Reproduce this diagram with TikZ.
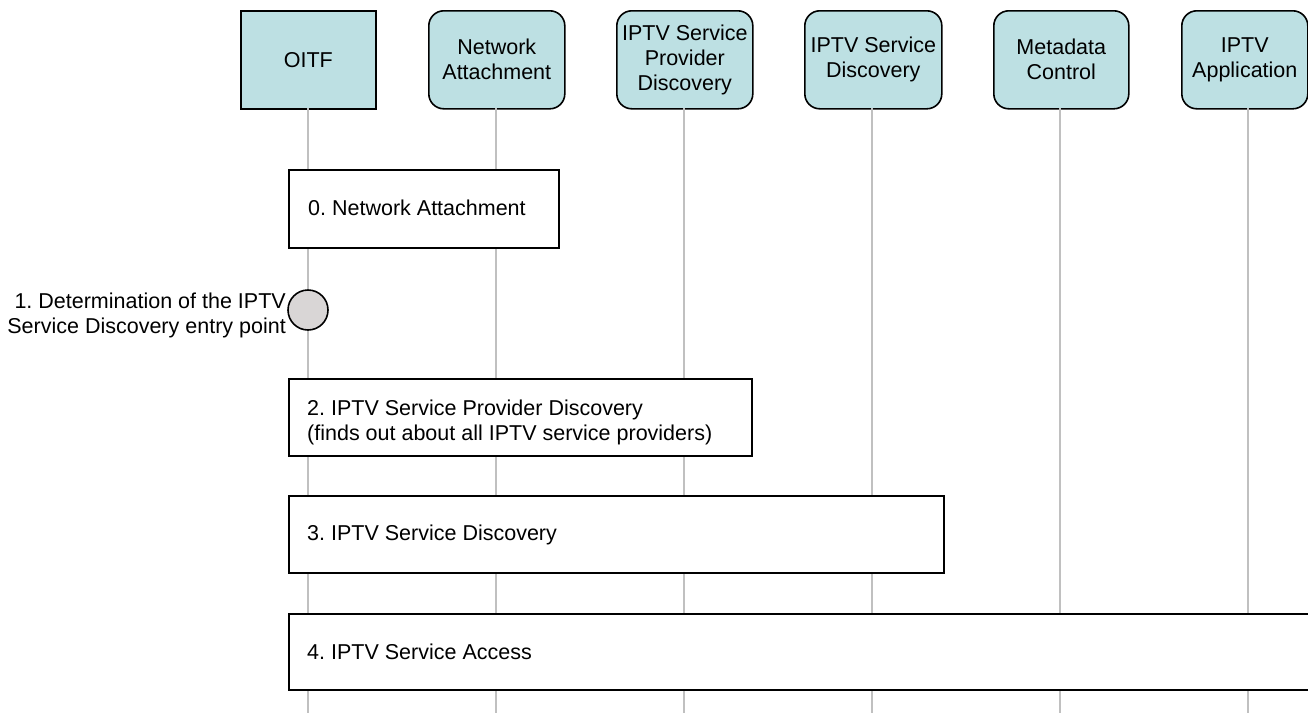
\documentclass[tikz,border=0pt]{standalone}
\usepackage{fontspec}
\setmainfont{Liberation Sans}
\usetikzlibrary{positioning,calc}
\definecolor{headfill}{HTML}{BDE0E3}
\definecolor{lifegray}{HTML}{C0C0C0}
\definecolor{circfill}{HTML}{D9D6D6}
\frenchspacing
\begin{document}
\begin{tikzpicture}[x=1pt,y=-1pt,
  every node/.style={font=\fontsize{21.5}{25}\selectfont},
  head/.style={draw=black,line width=1.6pt,fill=headfill,rounded corners=15pt,
    minimum height=98pt,inner sep=0pt,align=center,anchor=north west},
  headsq/.style={head,rounded corners=0pt},
  life/.style={draw=lifegray,line width=2pt},
  stepbox/.style={draw=black,line width=1.6pt,fill=white,anchor=north west,
    inner xsep=0pt,inner ysep=0pt,align=left},
  circ/.style={circle,draw=black,line width=1.6pt,fill=circfill,minimum size=40pt,inner sep=0pt}]
\clip (0,0) rectangle (1308,713);
\fill[white] (0,0) rectangle (1308,713);
% headers
\node[headsq,minimum width=135pt] (h1) at (240,10) {OITF};
\node[head,minimum width=136pt] (h2) at (428,10) {Network\\Attachment};
\node[head,minimum width=136pt] (h3) at (616,10) {IPTV Service\\Provider\\Discovery};
\node[head,minimum width=137pt] (h4) at (804,10) {IPTV Service\\Discovery};
\node[head,minimum width=135pt] (h5) at (993,10) {Metadata\\Control};
\node[head,minimum width=126pt] (h6) at (1181,10) {IPTV\\Application};
% lifelines
\coordinate (t1) at (308,108); \coordinate (b1) at (308,713);
\coordinate (t2) at (496,108); \coordinate (b2) at (496,713);
\coordinate (t3) at (684,108); \coordinate (b3) at (684,713);
\coordinate (t4) at (872,108); \coordinate (b4) at (872,713);
\coordinate (t5) at (1060,108); \coordinate (b5) at (1060,713);
\coordinate (t6) at (1248,108); \coordinate (b6) at (1248,713);
\foreach \i in {1,...,6} {\draw[life] (t\i) -- (b\i);}
% step boxes
\node[stepbox,minimum width=270pt,minimum height=78pt] (s0) at (288,169) {};
\node[anchor=west,inner sep=0pt] (s0t) at (308,208) {0. Network Attachment};
\node[circ] (c1) at (308,310) {};
\node[anchor=east,align=right,inner sep=0pt] (c1t) at (286,315) {1. Determination of the IPTV\\Service Discovery entry point};
\node[stepbox,minimum width=463pt,minimum height=77pt] (s2) at (288,378) {};
\node[anchor=west,align=left,inner sep=0pt] (s2t) at (307,422) {2. IPTV Service Provider Discovery\\(finds out about all IPTV service providers)};
\node[stepbox,minimum width=655pt,minimum height=77pt] (s3) at (288,495) {};
\node[anchor=west,inner sep=0pt] (s3t) at (307,535) {3. IPTV Service Discovery};
\node[stepbox,minimum width=1040pt,minimum height=76pt] (s4) at (288,613) {};
\node[anchor=west,inner sep=0pt] (s4t) at (307,652) {4. IPTV Service Access};
\end{tikzpicture}
\end{document}
